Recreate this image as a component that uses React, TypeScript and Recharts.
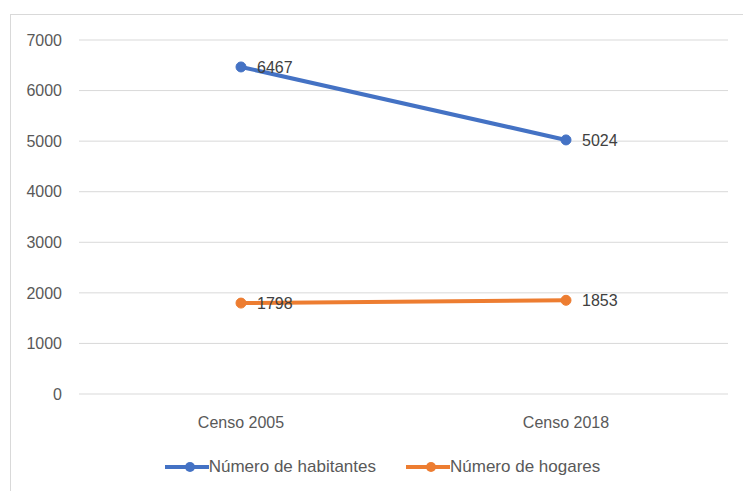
import React from 'react';
import { LineChart, Line, XAxis, YAxis, CartesianGrid, Legend, LabelList } from 'recharts';

const categories = ['Censo 2005', 'Censo 2018'];
const habitantes = [6467, 5024];
const hogares = [1798, 1853];
const yTicks = [0, 1000, 2000, 3000, 4000, 5000, 6000, 7000];

const data = categories.map((c, i) => ({ name: c, habitantes: habitantes[i], hogares: hogares[i] }));

const FONT = '"Liberation Sans", Arial, sans-serif';

const LegendContent = (props: any) => {
  const { payload } = props;
  return (
    <div style={{ display: 'flex', justifyContent: 'center', height: 24, alignItems: 'center', fontFamily: FONT, fontSize: 17, color: '#595959', paddingLeft: 22 }}>
      {(payload || []).map((p: any, i: number) => (
        <div key={i} style={{ display: 'flex', alignItems: 'center', marginRight: i === 0 ? 30 : 0 }}>
          <svg width={44} height={14}>
            <line x1={0} y1={7} x2={44} y2={7} stroke={p.color} strokeWidth={4} />
            <circle cx={25} cy={7} r={5} fill={p.color} />
          </svg>
          <span>{p.value}</span>
        </div>
      ))}
    </div>
  );
};

export default function App() {
  return (
    <div style={{ position: 'absolute', left: 0, top: 0, width: 743, height: 491, background: '#fff' }}>
      <div style={{ position: 'absolute', left: 10, top: 14, width: 733, height: 477, borderTop: '1px solid #d9d9d9', borderLeft: '1px solid #d9d9d9', boxSizing: 'border-box' }} />
      <div style={{ position: 'absolute', left: 0, top: 0 }}>
        <LineChart width={743} height={491} data={data} margin={{ top: 40, right: 15, bottom: 33, left: 9 }}>
          <CartesianGrid vertical={false} stroke="#d9d9d9" strokeWidth={1} />
          <XAxis
            dataKey="name"
            axisLine={false}
            tickLine={false}
            tickMargin={17}
            height={40}
            padding={{ left: 162, right: 162 }}
            tick={{ fill: '#595959', fontSize: 16, fontFamily: FONT }}
          />
          <YAxis
            width={70}
            domain={[0, 7000]}
            ticks={yTicks}
            axisLine={false}
            tickLine={false}
            tickMargin={11}
            tick={{ fill: '#595959', fontSize: 16, fontFamily: FONT }}
          />
          <Legend verticalAlign="bottom" content={<LegendContent />} wrapperStyle={{ top: 455, left: 0, width: 743 }} />
          <Line
            dataKey="habitantes"
            name="Número de habitantes"
            stroke="#4472C4"
            strokeWidth={4}
            dot={{ r: 5, fill: '#4472C4', stroke: '#4472C4', strokeWidth: 1 }}
            isAnimationActive={false}
          >
            <LabelList dataKey="habitantes" position="right" offset={16} style={{ fill: '#404040', fontSize: 16, fontFamily: FONT }} />
          </Line>
          <Line
            dataKey="hogares"
            name="Número de hogares"
            stroke="#ED7D31"
            strokeWidth={4}
            dot={{ r: 5, fill: '#ED7D31', stroke: '#ED7D31', strokeWidth: 1 }}
            isAnimationActive={false}
          >
            <LabelList dataKey="hogares" position="right" offset={16} style={{ fill: '#404040', fontSize: 16, fontFamily: FONT }} />
          </Line>
        </LineChart>
      </div>
    </div>
  );
}
